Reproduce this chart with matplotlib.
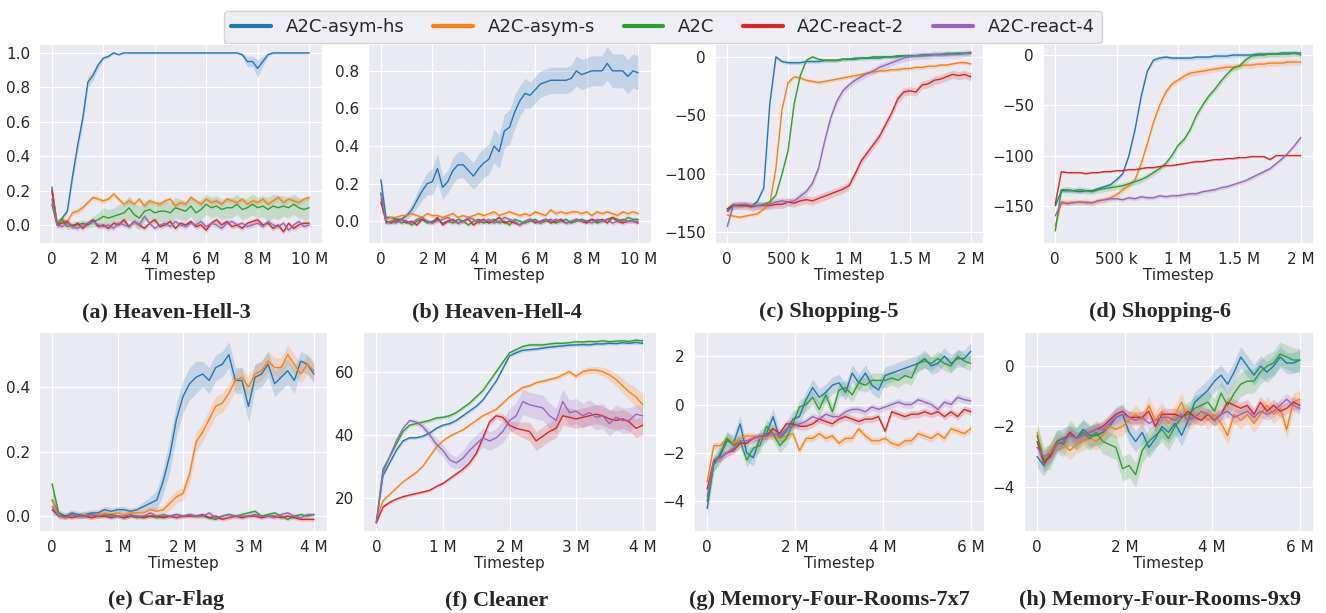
import numpy as np
import matplotlib.pyplot as plt
import seaborn as sns
from matplotlib.lines import Line2D
from matplotlib.ticker import FuncFormatter

sns.set_style("darkgrid")
plt.rcParams["font.family"] = ["DejaVu Sans"]

labels = ["A2C-asym-hs", "A2C-asym-s", "A2C", "A2C-react-2", "A2C-react-4"]
colors = ["#1f77b4", "#ff7f0e", "#2ca02c", "#d62728", "#9467bd"]

# (a) Heaven-Hell-3, 0..10M, step 0.2M
hh3_hs = [0.22, 0.01, 0.04, 0.08, 0.28, 0.46, 0.62, 0.83, 0.87, 0.93,
          0.97, 0.98, 1.00, 0.99, 1.00, 1.00, 1.00, 1.00, 1.00, 1.00,
          1.00, 1.00, 1.00, 1.00, 1.00, 1.00, 1.00, 1.00, 1.00, 1.00,
          1.00, 1.00, 1.00, 1.00, 1.00, 1.00, 1.00, 0.99, 0.95, 0.95,
          0.91, 0.95, 0.99, 1.00, 1.00, 1.00, 1.00, 1.00, 1.00, 1.00,
          1.00]
hh3_hs_sd = [0.02, 0.01, 0.01, 0.02, 0.04, 0.04, 0.04, 0.03, 0.03, 0.02,
             0.01, 0.01, 0.005, 0.005, 0.005, 0.005, 0.005, 0.005, 0.005, 0.005,
             0.005, 0.005, 0.005, 0.005, 0.005, 0.005, 0.005, 0.005, 0.005, 0.005,
             0.005, 0.005, 0.005, 0.005, 0.005, 0.005, 0.005, 0.01, 0.03, 0.03,
             0.05, 0.03, 0.01, 0.005, 0.005, 0.005, 0.005, 0.005, 0.005, 0.005,
             0.005]
hh3_s = [0.20, 0.02, 0.03, 0.02, 0.07, 0.08, 0.10, 0.13, 0.16, 0.15,
         0.14, 0.15, 0.18, 0.15, 0.12, 0.14, 0.12, 0.15, 0.11, 0.14,
         0.13, 0.12, 0.14, 0.15, 0.11, 0.13, 0.12, 0.16, 0.14, 0.12,
         0.15, 0.13, 0.14, 0.12, 0.15, 0.14, 0.13, 0.15, 0.12, 0.14,
         0.13, 0.15, 0.12, 0.14, 0.16, 0.13, 0.15, 0.14, 0.13, 0.15,
         0.16]
hh3_a2c = [0.12, 0.00, 0.03, -0.01, 0.00, 0.00, 0.01, 0.00, 0.02, 0.03,
           0.05, 0.04, 0.05, 0.06, 0.07, 0.10, 0.06, 0.04, 0.08, 0.09,
           0.07, 0.08, 0.08, 0.07, 0.10, 0.09, 0.08, 0.11, 0.07, 0.09,
           0.12, 0.10, 0.11, 0.09, 0.10, 0.10, 0.12, 0.09, 0.10, 0.12,
           0.10, 0.11, 0.09, 0.11, 0.10, 0.11, 0.10, 0.12, 0.10, 0.09,
           0.10]
hh3_a2c_sd = [0.03, 0.02, 0.02, 0.02, 0.02, 0.02, 0.02, 0.02, 0.03, 0.04,
              0.05, 0.05, 0.05, 0.06, 0.06, 0.07, 0.07, 0.07, 0.06, 0.06,
              0.06, 0.06, 0.06, 0.06, 0.06, 0.06, 0.06, 0.06, 0.06, 0.06,
              0.06, 0.06, 0.06, 0.06, 0.06, 0.06, 0.06, 0.06, 0.06, 0.06,
              0.06, 0.06, 0.07, 0.07, 0.07, 0.06, 0.06, 0.06, 0.06, 0.06,
              0.07]
hh3_r2 = [0.20, 0.00, 0.01, 0.02, -0.01, 0.01, -0.02, 0.01, 0.03, -0.01,
          0.00, -0.02, 0.01, 0.00, 0.03, -0.01, 0.02, 0.00, -0.02, 0.01,
          0.03, -0.01, 0.00, 0.02, -0.02, 0.01, 0.00, 0.02, -0.01, 0.00,
          -0.03, 0.01, 0.03, 0.00, 0.02, -0.01, 0.00, -0.02, 0.01, 0.02,
          0.03, 0.00, 0.01, -0.02, 0.00, -0.04, 0.01, -0.02, 0.00, 0.01,
          0.01]
hh3_r4 = [0.15, 0.00, -0.01, 0.01, -0.01, -0.02, 0.00, 0.01, 0.02, 0.00,
          -0.01, 0.00, -0.02, 0.01, 0.00, -0.01, 0.02, 0.00, 0.05, 0.01,
          -0.02, 0.00, 0.01, -0.01, 0.02, 0.00, -0.01, 0.01, 0.00, 0.02,
          -0.01, 0.01, 0.00, -0.02, 0.01, 0.02, 0.00, 0.01, -0.01, 0.00,
          0.01, -0.01, 0.02, 0.00, -0.01, 0.01, -0.03, 0.00, 0.02, -0.01,
          0.00]

# (b) Heaven-Hell-4, 0..10M, step 0.2M
hh4_hs = [0.22, 0.02, 0.02, 0.01, 0.01, 0.03, 0.06, 0.11, 0.16, 0.20,
          0.21, 0.28, 0.18, 0.21, 0.27, 0.30, 0.30, 0.27, 0.24, 0.28,
          0.31, 0.33, 0.40, 0.37, 0.48, 0.50, 0.58, 0.64, 0.68, 0.67,
          0.70, 0.73, 0.74, 0.75, 0.75, 0.75, 0.75, 0.76, 0.80, 0.78,
          0.79, 0.80, 0.80, 0.80, 0.84, 0.80, 0.80, 0.80, 0.77, 0.80,
          0.79]
hh4_hs_sd = [0.05, 0.01, 0.01, 0.01, 0.01, 0.02, 0.03, 0.04, 0.05, 0.06,
             0.07, 0.08, 0.06, 0.06, 0.07, 0.07, 0.07, 0.07, 0.07, 0.08,
             0.08, 0.08, 0.09, 0.09, 0.09, 0.09, 0.09, 0.08, 0.08, 0.07,
             0.07, 0.07, 0.07, 0.07, 0.07, 0.07, 0.07, 0.07, 0.08, 0.08,
             0.08, 0.08, 0.08, 0.08, 0.09, 0.09, 0.09, 0.09, 0.09, 0.09,
             0.09]
hh4_s = [0.12, 0.01, 0.02, 0.02, 0.03, 0.03, 0.04, 0.03, 0.02, 0.04,
         0.03, 0.03, 0.02, 0.03, 0.04, 0.02, 0.03, 0.02, 0.03, 0.04,
         0.03, 0.04, 0.05, 0.03, 0.04, 0.05, 0.04, 0.03, 0.04, 0.03,
         0.05, 0.04, 0.03, 0.06, 0.04, 0.05, 0.04, 0.05, 0.05, 0.04,
         0.05, 0.03, 0.05, 0.04, 0.05, 0.04, 0.03, 0.05, 0.04, 0.05,
         0.04]
hh4_a2c = [0.15, -0.01, 0.00, 0.01, -0.01, 0.00, -0.02, 0.00, 0.01, -0.01,
           0.00, 0.01, -0.01, 0.00, -0.01, 0.01, 0.00, -0.02, 0.00, 0.01,
           -0.01, 0.00, 0.01, -0.01, 0.00, -0.02, 0.01, 0.00, -0.01, 0.00,
           0.01, -0.01, 0.00, 0.01, -0.01, 0.00, 0.01, -0.01, 0.00, 0.01,
           0.00, 0.01, -0.01, 0.00, 0.01, 0.02, 0.01, 0.00, 0.02, 0.01,
           0.01]
hh4_r2 = [0.10, 0.00, -0.01, 0.00, 0.01, -0.01, 0.00, -0.02, 0.01, 0.00,
          -0.01, 0.02, -0.02, 0.00, 0.01, -0.01, 0.00, 0.01, -0.02, 0.00,
          0.01, -0.01, 0.00, 0.02, -0.01, 0.00, -0.01, -0.02, 0.00, 0.01,
          -0.01, 0.00, 0.01, -0.01, 0.00, 0.01, -0.01, 0.00, 0.01, 0.00,
          -0.01, 0.01, 0.00, 0.01, -0.01, 0.02, 0.00, -0.01, 0.00, 0.00,
          -0.01]
hh4_r4 = [0.15, -0.01, 0.00, -0.01, 0.01, 0.00, -0.01, 0.01, 0.02, 0.00,
          -0.01, 0.00, 0.01, 0.02, 0.00, -0.01, 0.00, 0.02, 0.01, -0.01,
          0.00, 0.01, -0.01, 0.00, 0.02, 0.01, 0.00, -0.02, 0.00, 0.01,
          0.00, -0.01, 0.01, 0.00, 0.01, 0.00, -0.01, 0.00, 0.01, 0.00,
          0.00, -0.01, 0.01, 0.00, 0.01, -0.01, 0.00, 0.01, 0.00, 0.00,
          0.00]

# (c) Shopping-5, 0..2M, step 50k
s5_hs = [-132, -127, -127, -126, -128, -123, -112, -40, 0, -4,
         -5, -5, -5, -4, -4, -4, -3, -3, -3, -2,
         -2, -2, -1, -1, -1, -1, 0, 0, 0, 1,
         1, 1, 1, 1.5, 2, 2, 2, 2.5, 3, 3,
         3]
s5_s = [-135, -136, -137, -136, -135, -134, -130, -125, -95, -45,
        -22, -17, -18, -20, -21, -22, -21, -20, -19, -18,
        -17, -16, -15, -14, -13, -12, -12, -11, -11, -10,
        -10, -9, -9, -8, -8, -7, -7, -6, -5, -5,
        -6]
s5_a2c = [-130, -126, -127, -127, -127, -127, -126, -124, -118, -100,
          -80, -40, -16, -3, 0, -2, -3, -3, -3, -2,
          -2, -1, -1, -1, 0, 0, 0, 0, 1, 1,
          1, 1, 2, 2, 2, 2, 3, 3, 3, 3,
          4]
s5_r2 = [-130, -127, -127, -127, -128, -127, -127, -127, -126, -126,
         -124, -125, -123, -122, -123, -121, -119, -117, -115, -113,
         -110, -100, -89, -82, -75, -68, -58, -48, -36, -30,
         -29, -30, -24, -23, -20, -19, -17, -15, -16, -15,
         -17]
s5_r4 = [-145, -127, -126, -126, -127, -127, -127, -126, -124, -123,
         -124, -123, -119, -115, -108, -95, -72, -52, -38, -29,
         -24, -20, -17, -14, -12, -9, -7, -5, -3, -1,
         0, 1, 1, 1, 2, 2, 2, 2, 2, 3,
         3]

# (d) Shopping-6, 0..2M, step 50k
s6_hs = [-150, -135, -135, -135, -136, -135, -135, -133, -131, -129,
         -124, -118, -100, -74, -41, -16, -5, -3, -2, -3,
         -3, -3, -3, -2, -2, -2, -1, -1, -1, 0,
         0, 0, 0, 1, 1, 1, 1, 2, 2, 2,
         2]
s6_s = [-170, -146, -147, -146, -147, -146, -147, -145, -144, -142,
        -139, -134, -130, -124, -108, -88, -67, -50, -37, -29,
        -25, -21, -18, -17, -16, -15, -14, -13, -12, -12,
        -11, -10, -10, -9, -9, -8, -8, -8, -7, -7,
        -7]
s6_a2c = [-175, -134, -134, -135, -134, -135, -136, -134, -133, -132,
          -131, -130, -128, -126, -124, -121, -117, -113, -108, -100,
          -90, -84, -74, -60, -50, -41, -34, -26, -19, -13,
          -11, -5, -1, 0, 0, 1, 1, 1, 1, 2,
          0]
s6_r2 = [-148, -116, -117, -117, -117, -118, -117, -117, -116, -116,
         -115, -115, -114, -114, -113, -112, -112, -111, -110, -110,
         -109, -108, -107, -106, -106, -105, -104, -104, -103, -103,
         -102, -102, -101, -101, -101, -104, -100, -100, -100, -100,
         -100]
s6_r4 = [-160, -147, -148, -147, -146, -147, -147, -145, -144, -143,
         -143, -144, -142, -143, -141, -142, -142, -140, -141, -140,
         -140, -139, -138, -138, -136, -135, -134, -132, -131, -129,
         -127, -125, -122, -119, -116, -113, -108, -103, -97, -90,
         -82]

# (e) Car-Flag, 0..4M, step 100k
cf_hs = [0.05, 0.01, 0.00, 0.01, 0.005, 0.005, 0.01, 0.01, 0.02, 0.015,
         0.02, 0.02, 0.015, 0.02, 0.03, 0.04, 0.05, 0.11, 0.19, 0.30,
         0.37, 0.41, 0.43, 0.44, 0.42, 0.46, 0.47, 0.50, 0.42, 0.42,
         0.34, 0.43, 0.44, 0.47, 0.41, 0.43, 0.45, 0.42, 0.48, 0.47,
         0.44]
cf_hs_sd = [0.05, 0.01, 0.01, 0.01, 0.01, 0.01, 0.01, 0.01, 0.01, 0.01,
            0.01, 0.01, 0.01, 0.01, 0.015, 0.02, 0.03, 0.04, 0.05, 0.05,
            0.05, 0.05, 0.05, 0.04, 0.04, 0.04, 0.04, 0.04, 0.04, 0.04,
            0.05, 0.04, 0.04, 0.04, 0.04, 0.04, 0.04, 0.04, 0.03, 0.03,
            0.03]
cf_s = [0.05, 0.00, 0.00, 0.005, 0.00, 0.005, 0.00, 0.005, 0.01, 0.005,
        0.01, 0.005, 0.01, 0.01, 0.01, 0.02, 0.015, 0.02, 0.04, 0.06,
        0.07, 0.13, 0.23, 0.26, 0.30, 0.34, 0.35, 0.38, 0.42, 0.43,
        0.40, 0.44, 0.45, 0.48, 0.46, 0.46, 0.50, 0.47, 0.44, 0.47,
        0.45]
cf_s_sd = [0.02, 0.01, 0.01, 0.01, 0.01, 0.01, 0.01, 0.01, 0.01, 0.01,
           0.01, 0.01, 0.01, 0.01, 0.01, 0.01, 0.01, 0.015, 0.02, 0.02,
           0.02, 0.03, 0.03, 0.03, 0.03, 0.03, 0.03, 0.03, 0.03, 0.03,
           0.03, 0.03, 0.03, 0.03, 0.03, 0.03, 0.03, 0.03, 0.03, 0.03,
           0.03]
cf_a2c = [0.10, 0.01, 0.00, 0.005, 0.00, 0.00, 0.005, 0.00, 0.00, 0.005,
          0.00, -0.005, 0.00, -0.005, 0.00, 0.00, -0.005, 0.00, 0.00, 0.005,
          0.00, 0.005, 0.00, 0.00, -0.005, -0.01, 0.00, 0.005, 0.00, 0.005,
          0.01, 0.015, 0.00, 0.005, 0.01, 0.00, -0.01, 0.00, 0.005, 0.00,
          0.005]
cf_r2 = [0.02, 0.00, 0.00, -0.005, 0.00, 0.00, -0.005, 0.00, 0.00, -0.005,
         0.00, -0.005, 0.00, 0.00, -0.005, 0.00, 0.00, -0.005, 0.00, -0.005,
         0.00, 0.00, 0.00, 0.005, -0.005, 0.00, -0.01, -0.005, 0.00, -0.005,
         0.00, 0.00, -0.005, 0.00, 0.00, -0.005, 0.00, -0.005, -0.01, -0.01,
         -0.01]
cf_r4 = [0.03, 0.00, -0.005, 0.005, 0.00, 0.00, 0.005, 0.00, 0.005, 0.00,
         0.00, 0.00, 0.005, 0.00, 0.00, 0.01, 0.00, 0.005, 0.00, 0.005,
         0.00, 0.005, 0.00, 0.00, 0.01, -0.005, 0.00, 0.005, 0.00, 0.00,
         0.00, 0.005, 0.00, 0.00, -0.005, 0.005, 0.01, 0.00, -0.005, 0.005,
         0.005]

# (f) Cleaner, 0..4M, step 100k
cl_hs = [12, 27, 31, 35, 38, 39, 39, 39.5, 40.5, 42,
         43, 43.5, 44.5, 46, 47.5, 49, 51, 54, 57, 61,
         65, 66, 66.8, 67, 67.2, 67.5, 67.8, 68, 68.2, 68.4,
         68.5, 68.6, 68.5, 68.8, 68.8, 69, 68.9, 69.2, 69, 69.3,
         69]
cl_s = [13, 19, 21, 23, 25, 26.5, 28, 30, 33, 36,
        38, 39.5, 40.5, 41.5, 43, 44.5, 46, 47, 48, 50,
        52, 53.5, 55, 55.5, 56.5, 57, 57.5, 58, 59, 60,
        58.5, 60, 60.5, 60.5, 60, 59, 57.5, 55.5, 53.5, 52,
        49.5]
cl_s_sd = [0.5, 0.4, 0.4, 0.4, 0.4, 0.4, 0.4, 0.4, 0.4, 0.4,
           0.4, 0.4, 0.4, 0.4, 0.4, 0.4, 0.4, 0.4, 0.4, 0.5,
           0.5, 0.5, 0.5, 0.5, 0.5, 0.5, 0.6, 0.6, 0.7, 0.8,
           0.9, 1.0, 1.0, 1.2, 1.4, 1.7, 2.0, 2.3, 2.6, 3.0,
           3.5]
cl_a2c = [12, 29, 33, 37, 41, 43, 43.5, 44, 44.5, 45.3,
          45.5, 46, 47, 48.5, 50, 52, 54, 57, 60, 63,
          66, 67, 68, 68.5, 68.5, 68.5, 68.8, 69, 69, 69.2,
          69.5, 69.4, 69.6, 69.5, 69.8, 69.5, 69.7, 69.8, 69.6, 70,
          69.8]
cl_r2 = [12, 17, 18.5, 19.5, 20.3, 20.8, 21.3, 21.8, 22.3, 23.5,
         24.5, 26, 27.5, 29, 31, 34, 39, 44, 46, 45.5,
         43, 42, 41.5, 41, 38, 39.5, 41, 42, 46, 45.5,
         45, 45.5, 46, 46.5, 46, 45, 44.5, 45, 44, 42,
         43]
cl_r2_sd = [0.5, 0.5, 0.5, 0.5, 0.5, 0.5, 0.5, 0.5, 0.5, 0.5,
            0.5, 0.6, 0.6, 0.7, 0.8, 0.9, 1.0, 1.0, 1.0, 1.2,
            1.5, 2.0, 2.5, 3.0, 3.0, 3.0, 3.0, 3.0, 3.0, 3.0,
            3.0, 3.0, 3.0, 3.0, 3.0, 3.0, 3.0, 3.0, 3.0, 3.0,
            3.0]
cl_r4 = [12, 28, 33, 38, 42, 44.5, 44, 42.5, 40, 37,
         35, 32, 31, 32.5, 35, 37, 39, 38, 39, 41,
         44.5, 46, 50.5, 49.5, 49, 48.5, 46, 44.5, 50.5, 47,
         47.5, 46, 47, 45.5, 46, 43.5, 45.5, 44.5, 44.5, 46.5,
         46]
cl_r4_sd = [0.5, 0.5, 0.5, 0.5, 0.5, 0.5, 0.8, 1.0, 1.5, 2.0,
            2.0, 2.0, 2.0, 2.5, 3.0, 3.0, 3.0, 3.0, 3.0, 3.5,
            4.0, 4.0, 4.0, 4.0, 4.0, 4.0, 4.0, 4.0, 4.0, 4.0,
            4.0, 4.0, 4.0, 4.0, 4.0, 4.0, 4.0, 4.0, 4.0, 3.0,
            3.0]

# (g) Memory-Four-Rooms-7x7, 0..6M, step 150k
g_hs = [-4.3, -2.4, -2.1, -1.5, -1.6, -0.8, -2.0, -2.2, -1.4, -1.2,
        -0.5, -1.4, -1.1, -0.6, -0.5, 0.2, 0.7, 0.3, 0.5, 0.8,
        0.9, 0.5, 1.3, 0.9, 1.3, 0.8, 0.6, 1.2, 1.3, 1.4,
        1.5, 1.6, 1.7, 1.9, 1.6, 1.7, 2.0, 1.7, 1.9, 1.9,
        2.2]
g_s = [-3.2, -1.7, -1.7, -1.4, -1.6, -1.4, -1.3, -1.3, -1.4, -1.3,
       -1.3, -1.4, -1.3, -1.2, -1.9, -1.4, -1.4, -1.2, -1.4, -1.3,
       -1.6, -1.4, -1.4, -1.0, -1.3, -1.5, -1.5, -1.4, -1.6, -1.7,
       -1.5, -1.5, -1.2, -1.3, -1.4, -1.2, -1.4, -1.0, -1.1, -1.2,
       -1.0]
g_a2c = [-4.0, -2.5, -2.0, -1.4, -1.7, -1.5, -2.3, -1.8, -1.7, -0.9,
         -1.2, -1.7, -1.4, -0.8, -0.1, 0.0, 0.3, -0.2, 0.4, -0.3,
         0.6, 0.7, 0.4, 0.9, 0.8, 1.0, 1.0, 1.0, 1.1, 1.0,
         1.2, 1.1, 1.7, 1.8, 1.7, 1.9, 1.7, 1.6, 2.0, 1.8,
         1.7]
g_r2 = [-3.5, -2.3, -2.2, -2.0, -1.9, -1.6, -1.6, -1.4, -1.3, -1.3,
        -1.0, -1.2, -0.8, -0.8, -0.9, -0.9, -0.8, -0.6, -0.7, -0.8,
        -0.6, -0.5, -0.6, -0.7, -0.6, -0.6, -0.5, -1.1, -0.3, -0.4,
        -0.5, -0.4, -0.4, -0.3, -0.4, -0.3, -0.5, -0.3, -0.5, -0.2,
        -0.3]
g_r4 = [-3.8, -2.3, -2.2, -2.0, -1.8, -1.5, -1.5, -1.4, -1.3, -1.3,
        -1.2, -1.3, -1.0, -0.9, -0.8, -0.7, -0.5, -0.6, -0.4, -0.5,
        -0.5, -0.3, -0.2, -0.2, -0.3, -0.1, -0.2, -0.1, 0.0, 0.1,
        0.0, 0.0, 0.2, 0.1, 0.0, -0.2, 0.1, 0.0, 0.3, 0.2,
        0.15]

# (h) Memory-Four-Rooms-9x9, 0..6M, step 150k
h_hs = [-3.0, -3.3, -2.9, -2.5, -2.4, -2.3, -2.4, -2.1, -2.3, -2.3,
        -2.2, -2.0, -1.7, -1.6, -2.2, -2.5, -2.2, -2.7, -2.4, -2.0,
        -2.2, -1.9, -2.3, -1.8, -1.2, -1.0, -0.8, -0.5, -0.3, -0.6,
        -0.2, 0.3, 0.0, -0.3, 0.0, -0.2, 0.0, 0.3, 0.1, 0.1,
        0.2]
h_s = [-2.2, -3.1, -2.8, -2.5, -2.6, -2.8, -2.6, -2.5, -2.4, -2.5,
       -2.3, -2.0, -2.1, -2.0, -1.8, -1.6, -1.8, -1.3, -1.8, -1.5,
       -1.9, -1.6, -1.2, -1.8, -1.7, -1.5, -1.8, -1.6, -1.9, -2.3,
       -1.6, -1.8, -1.6, -1.9, -1.6, -1.3, -1.6, -1.4, -2.1, -1.2,
       -1.1]
h_a2c = [-2.3, -3.1, -3.0, -2.5, -2.6, -2.2, -2.4, -2.2, -2.4, -2.2,
         -2.5, -2.6, -2.7, -3.4, -3.3, -3.6, -2.8, -2.5, -2.3, -2.1,
         -2.4, -2.0, -1.7, -1.6, -1.4, -1.3, -1.2, -1.5, -0.9, -1.3,
         -0.9, -0.6, -0.5, -0.5, -0.2, 0.0, 0.1, 0.4, 0.3, 0.2,
         0.2]
h_r2 = [-2.5, -3.2, -3.0, -2.6, -2.5, -2.2, -2.4, -2.3, -2.2, -2.1,
        -2.0, -1.8, -1.6, -1.5, -1.7, -1.7, -1.7, -1.5, -2.0, -1.6,
        -1.6, -1.6, -1.7, -1.5, -1.7, -1.8, -1.6, -1.8, -1.6, -1.2,
        -1.3, -1.4, -1.3, -1.6, -1.2, -1.5, -1.3, -1.5, -1.4, -1.2,
        -1.3]
h_r4 = [-2.7, -3.0, -2.9, -2.6, -2.5, -2.3, -2.4, -2.3, -2.2, -2.1,
        -2.1, -1.9, -1.7, -1.6, -1.7, -1.8, -1.7, -1.9, -1.8, -1.7,
        -1.7, -1.8, -1.6, -1.8, -1.7, -1.5, -1.6, -1.8, -1.6, -1.5,
        -1.7, -1.6, -1.5, -1.7, -1.5, -1.6, -1.5, -1.3, -1.1, -1.3,
        -1.4]

titles = ["(a) Heaven-Hell-3", "(b) Heaven-Hell-4", "(c) Shopping-5", "(d) Shopping-6",
          "(e) Car-Flag", "(f) Cleaner", "(g) Memory-Four-Rooms-7x7", "(h) Memory-Four-Rooms-9x9"]
x_max = [10e6, 10e6, 2e6, 2e6, 4e6, 4e6, 6e6, 6e6]
series = [
    [hh3_hs, hh3_s, hh3_a2c, hh3_r2, hh3_r4],
    [hh4_hs, hh4_s, hh4_a2c, hh4_r2, hh4_r4],
    [s5_hs, s5_s, s5_a2c, s5_r2, s5_r4],
    [s6_hs, s6_s, s6_a2c, s6_r2, s6_r4],
    [cf_hs, cf_s, cf_a2c, cf_r2, cf_r4],
    [cl_hs, cl_s, cl_a2c, cl_r2, cl_r4],
    [g_hs, g_s, g_a2c, g_r2, g_r4],
    [h_hs, h_s, h_a2c, h_r2, h_r4],
]
bands = [
    [hh3_hs_sd, 0.015, hh3_a2c_sd, 0.015, 0.015],
    [hh4_hs_sd, 0.01, 0.01, 0.01, 0.01],
    [1.5, 1.5, 1.5, 3.5, 3.0],
    [2.0, 3.0, 3.0, 1.0, 2.0],
    [cf_hs_sd, cf_s_sd, 0.006, 0.006, 0.006],
    [0.5, cl_s_sd, 0.6, cl_r2_sd, cl_r4_sd],
    [0.35, 0.15, 0.3, 0.15, 0.15],
    [0.35, 0.3, 0.4, 0.2, 0.2],
]
x_ticks = [np.arange(0, 10.1e6, 2e6), np.arange(0, 10.1e6, 2e6),
           np.arange(0, 2.01e6, 5e5), np.arange(0, 2.01e6, 5e5),
           np.arange(0, 4.01e6, 1e6), np.arange(0, 4.01e6, 1e6),
           np.arange(0, 6.01e6, 2e6), np.arange(0, 6.01e6, 2e6)]
y_ticks = [[0, 0.2, 0.4, 0.6, 0.8, 1.0], [0, 0.2, 0.4, 0.6, 0.8],
           [-150, -100, -50, 0], [-150, -100, -50, 0],
           [0, 0.2, 0.4], [20, 40, 60], [-4, -2, 0, 2], [-4, -2, 0]]
y_lims = [(-0.105, 1.052), (-0.116, 0.943), (-159, 11), (-187, 11),
          (-0.046, 0.57), (9.4, 72.6), (-5.23, 3.0), (-5.47, 1.13)]

# axes boxes in pixels (left, top, right, bottom) of a 1326x613 canvas
W, H = 1326, 613
boxes = [(39, 44, 322, 243), (368, 44, 651, 243), (715, 44, 983, 243), (1043, 44, 1313, 243),
         (39, 332, 327, 531), (363, 332, 656, 531), (694, 332, 984, 531), (1024, 332, 1313, 531)]
cap_x = [166, 497, 829, 1160]
cap_y = [312, 600]


def fmt_steps(v, pos):
    if abs(v) < 1:
        return "0"
    if abs(v) >= 1e6:
        return f"{v / 1e6:g} M"
    return f"{v / 1e3:g} k"


fig = plt.figure(figsize=(13.26, 6.13), dpi=100)

for i in range(8):
    l, t, r, b = boxes[i]
    ax = fig.add_axes([l / W, 1 - b / H, (r - l) / W, (b - t) / H])
    for y, sd, c in zip(series[i], bands[i], colors):
        y = np.asarray(y, dtype=float)
        sd = np.asarray(sd, dtype=float)
        x = np.linspace(0, x_max[i], len(y))
        ax.fill_between(x, y - sd, y + sd, color=c, alpha=0.2, lw=0)
        ax.plot(x, y, color=c, lw=1.0)
    ax.set_xlim(-0.05 * x_max[i], 1.05 * x_max[i])
    ax.set_ylim(*y_lims[i])
    ax.set_xticks(x_ticks[i])
    ax.set_yticks(y_ticks[i])
    ax.xaxis.set_major_formatter(FuncFormatter(fmt_steps))
    ax.tick_params(labelsize=11, colors="#262626", pad=3)
    ax.set_xlabel("Timestep", fontsize=11, color="#262626", labelpad=1)
    fig.text(cap_x[i % 4] / W, 1 - cap_y[i // 4] / H, titles[i], ha="center", va="center",
             fontfamily="Liberation Serif", fontweight="bold", fontsize=16)

handles = [Line2D([], [], color=c, lw=3) for c in colors]
fig.legend(handles, labels, loc="upper center", bbox_to_anchor=(0.5, 0.997), ncol=5,
           fontsize=13, handlelength=2.2, columnspacing=1.6, frameon=True)

fig.savefig("out.png", dpi=100)
